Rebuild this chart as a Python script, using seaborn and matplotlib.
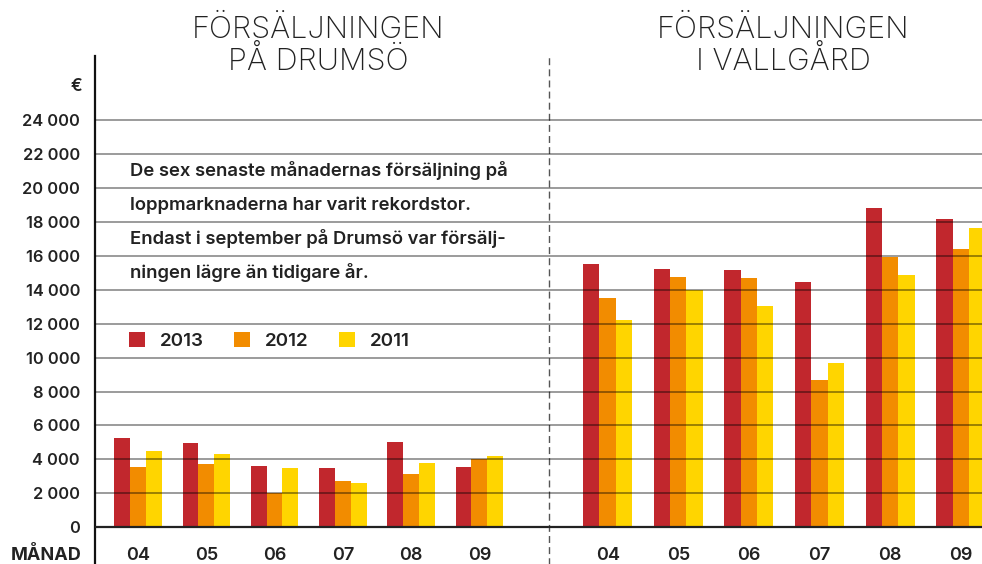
import matplotlib
matplotlib.use("Agg")
import matplotlib.pyplot as plt
import matplotlib.transforms as mtransforms
import seaborn as sns
import pandas as pd

# ---------------- data ----------------
months = ["04", "05", "06", "07", "08", "09"]
years = ["2013", "2012", "2011"]
drumso_2013 = [5250, 4960, 3610, 3490, 5020, 3550]
drumso_2012 = [3550, 3730, 2000, 2730, 3140, 4020]
drumso_2011 = [4500, 4310, 3490, 2610, 3780, 4200]
vallgard_2013 = [15490, 15200, 15140, 14430, 18840, 18140]
vallgard_2012 = [13490, 14730, 14670, 8670, 15900, 16370]
vallgard_2011 = [12200, 13980, 13020, 9670, 14840, 17610]
yticks = list(range(0, 24001, 2000))
ytick_labels = [f"{v:,}".replace(",", " ") for v in yticks]
title_left = "FÖRSÄLJNINGEN\nPÅ DRUMSÖ"
title_right = "FÖRSÄLJNINGEN\nI VALLGÅRD"
note_lines = [
    "De sex senaste månadernas försäljning på",
    "loppmarknaderna har varit rekordstor.",
    "Endast i september på Drumsö var försälj-",
    "ningen lägre än tidigare år.",
]
colors = ["#C1272D", "#F28C00", "#FFD500"]


def long_frame(v13, v12, v11):
    rows = []
    for yr, vals in zip(years, [v13, v12, v11]):
        for m, v in zip(months, vals):
            rows.append({"month": m, "year": yr, "value": v})
    return pd.DataFrame(rows)


df_left = long_frame(drumso_2013, drumso_2012, drumso_2011)
df_right = long_frame(vallgard_2013, vallgard_2012, vallgard_2011)

# ---------------- style ----------------
sns.set_style("white")
plt.rcParams["font.family"] = ["Inter", "DejaVu Sans"]
TXT = "#222222"
MED = "semibold"

W, H = 982, 564
fig = plt.figure(figsize=(W / 100, H / 100), dpi=100)
top_px, left_px, mid_px = 56, 95, 549
axL = fig.add_axes([left_px / W, 0, (mid_px - left_px) / W, (H - top_px) / H])
axR = fig.add_axes([mid_px / W, 0, (W - mid_px) / W, (H - top_px) / H])

ylim = (-2163, 27770)

sns.barplot(data=df_left, x="month", y="value", hue="year", order=months,
            hue_order=years, palette=colors, saturation=1, width=0.694,
            errorbar=None, linewidth=0, ax=axL)
sns.barplot(data=df_right, x="month", y="value", hue="year", order=months,
            hue_order=years, palette=colors, saturation=1, width=0.694,
            errorbar=None, linewidth=0, ax=axR, legend=False)

for ax, xl in ((axL, (-0.63, 6.02)), (axR, (-0.83, 5.30))):
    ax.set_ylim(*ylim)
    ax.set_xlim(*xl)
    ax.set_xlabel("")
    ax.set_ylabel("")
    ax.set_xticks([])
    ax.set_yticks(yticks[1:])
    ax.set_axisbelow(False)
    ax.yaxis.grid(True, color="black", alpha=0.5, linewidth=1.1)
    ax.xaxis.grid(False)
    for s in ("top", "right", "bottom"):
        ax.spines[s].set_visible(False)
    ax.axhline(0, color=TXT, linewidth=1.6, zorder=4)
    for i, m in enumerate(months):
        ax.text(i, -1640, m, ha="center", va="center", fontsize=13,
                fontweight=MED, color=TXT)

# left axis
axL.set_yticks(yticks)
axL.set_yticklabels(ytick_labels)
axL.tick_params(axis="y", length=4.3, width=1, color="#777777", pad=6.5,
                labelsize=11.8, labelcolor=TXT)
for lab in axL.get_yticklabels():
    lab.set_fontweight(MED)
axL.spines["left"].set_color("#111111")
axL.spines["left"].set_linewidth(1.6)

# right axis: dashed divider
axR.tick_params(axis="y", length=0, labelleft=False)
axR.spines["left"].set_color("#555555")
axR.spines["left"].set_linewidth(1.0)
axR.spines["left"].set_linestyle((0, (4, 4)))

blend = mtransforms.blended_transform_factory(axL.transAxes, axL.transData)
axL.text(-0.029, 26000, "€", transform=blend, ha="right", va="center",
         fontsize=12.5, fontweight=MED, color=TXT)
axL.text(-0.029, -1640, "MÅNAD", transform=blend, ha="right", va="center",
         fontsize=13, fontweight="bold", color=TXT)

for k, line in enumerate(note_lines):
    axL.text(0.077, 21000 - 2000 * k, line, transform=blend, ha="left",
             va="center", fontsize=13.3, fontweight=MED, color=TXT)

handles, labels = axL.get_legend_handles_labels()
axL.legend(handles, labels, loc="center left", bbox_to_anchor=(0.075, 11000),
           bbox_transform=blend, ncol=3, frameon=False, borderpad=0,
           borderaxespad=0, handlelength=0.85, handleheight=0.85,
           handletextpad=0.8, columnspacing=1.62,
           prop={"size": 13.5, "weight": MED}, labelcolor=TXT)

fig.text(318 / W, 1 - 46 / H, title_left, ha="center", va="center",
         fontsize=22, fontweight="light", color=TXT, linespacing=1.05)
fig.text(783 / W, 1 - 46 / H, title_right, ha="center", va="center",
         fontsize=22, fontweight="light", color=TXT, linespacing=1.05)

fig.savefig("out.png", dpi=100)
